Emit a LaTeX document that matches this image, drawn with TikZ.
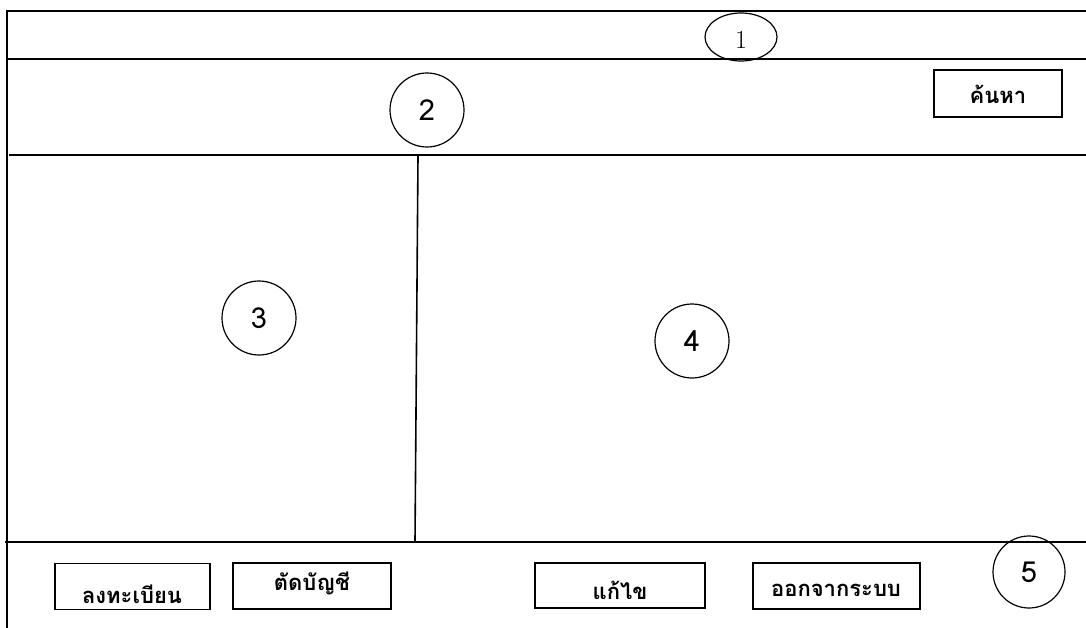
\documentclass[tikz,border=0pt]{standalone}
\usepackage{fontspec}
\newfontfamily\thaifont[Script=Thai]{Loma}
\usetikzlibrary{shapes.geometric}
\begin{document}
\begin{tikzpicture}[x=1pt,y=-1pt,
  frame/.style={line width=1.6pt},
  btn/.style={draw,line width=1.6pt,minimum width=#1,minimum height=46pt,inner sep=0pt},
  btn/.default=155pt,
  lbl/.style={font=\thaifont\bfseries\fontsize{22}{26}\selectfont},
  num/.style={draw,circle,line width=1.2pt,minimum size=74pt,inner sep=0pt,font=\thaifont\fontsize{29}{34}\selectfont}]
\useasboundingbox (0,0) rectangle (1086,628);
% frame lines
\coordinate (tl) at (7,11);
\coordinate (tr) at (1086,11);
\coordinate (bl) at (7,628);
\draw[frame] (tr) -- (tl) -- (bl);
\coordinate (a1) at (7,59);   \coordinate (a2) at (1086,59);
\coordinate (b1) at (9,155);  \coordinate (b2) at (1086,155);
\coordinate (c1) at (5,542);  \coordinate (c2) at (1086,542);
\coordinate (d1) at (418,156); \coordinate (d2) at (415,541);
\draw[frame] (a1) -- (a2);
\draw[frame] (b1) -- (b2);
\draw[frame] (c1) -- (c2);
\draw[frame] (d1) -- (d2);
% number markers
\node[draw,ellipse,line width=1.2pt,minimum width=72pt,minimum height=48pt,inner sep=0pt] (n1) at (741,37) {};
\node[font=\fontsize{26}{30}\selectfont] at (741,40) {1};
\node[num] (n2) at (427,110) {2};
\node[num] (n3) at (259,318) {3};
\node[num] (n4) at (692,341) {4};
\node[num,minimum size=72pt] (n5) at (1029,572) {5};
% buttons
\node[btn=128pt,minimum height=47pt] (search) at (998,93.5) {};
\node[lbl] at (998,94) {ค้นหา};
\node[btn=155pt,minimum height=46pt] (reg) at (132.5,586.5) {};
\node[lbl,anchor=base] at (132,603) {ลงทะเบียน};
\node[btn=158pt,minimum height=46pt] (cut) at (312,586) {};
\node[lbl] at (312,583) {ตัดบัญชี};
\node[btn=170pt,minimum height=45pt] (edit) at (620,585.5) {};
\node[lbl] at (620,590) {แก้ไข};
\node[btn=167pt,minimum height=46pt] (out) at (836.5,586) {};
\node[lbl] at (836,590) {ออกจากระบบ};
\end{tikzpicture}
\end{document}
